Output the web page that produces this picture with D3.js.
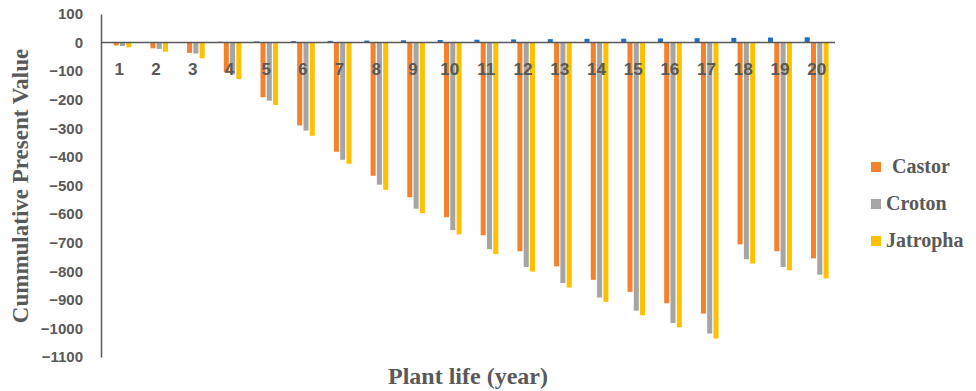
<!DOCTYPE html>
<html>
<head>
<meta charset="utf-8">
<script src="https://cdn.jsdelivr.net/npm/d3@7"></script>
<style>
  body { margin: 0; background: #fff; }
  .tick-label { font-family: "Liberation Sans", Arial, sans-serif; font-weight: bold; fill: #595959; }
  .title { font-family: "Liberation Serif", "Times New Roman", serif; font-weight: bold; fill: #595959; }
</style>
</head>
<body>
<div id="chart"></div>
<script>
// values
const years = d3.range(1, 21);
const seriesNames = ["Base", "Castor", "Croton", "Jatropha"];
const base = [0.5, 1, 2, 3, 4, 5, 6, 7, 8, 9, 10, 11, 12, 13, 13.5, 14.5, 15.5, 16.5, 17.5, 18.5];
const castor = [-10, -20, -36, -104, -191, -290, -382, -466, -541, -611, -674, -730, -783, -830, -872, -912, -948, -706, -730, -755];
const croton = [-12, -22, -38, -111, -203, -308, -410, -497, -581, -656, -723, -785, -841, -892, -938, -981, -1018, -758, -785, -812];
const jatropha = [-17, -32, -55, -128, -218, -326, -424, -515, -597, -671, -740, -801, -857, -907, -954, -996, -1035, -773, -797, -825];
const yTicks = d3.range(100, -1101, -100);
const legendNames = ["Castor", "Croton", "Jatropha"];

const colors = { Base: "#1f6fc4", Castor: "#f5812c", Croton: "#a5a5a5", Jatropha: "#ffc000" };
const values = { Base: base, Castor: castor, Croton: croton, Jatropha: jatropha };

const width = 976, height = 391;
const plot = { left: 101, right: 835, top: 14, bottom: 357 };

const svg = d3.select("#chart").append("svg")
  .attr("width", width)
  .attr("height", height);

const x0 = d3.scaleBand()
  .domain(years)
  .range([plot.left, plot.right])
  .paddingInner(0.28)
  .paddingOuter(0.14);

const x1 = d3.scaleBand()
  .domain(seriesNames)
  .range([0, x0.bandwidth()])
  .padding(0.2);

const y = d3.scaleLinear()
  .domain([-1100, 100])
  .range([plot.bottom, plot.top]);

// bars
const rows = years.map((yr, i) => ({ year: yr, vals: seriesNames.map(s => ({ key: s, v: values[s][i] })) }));

svg.append("g").selectAll("g")
  .data(rows)
  .join("g")
  .attr("transform", d => "translate(" + x0(d.year) + ",0)")
  .selectAll("rect")
  .data(d => d.vals)
  .join("rect")
  .attr("x", d => x1(d.key))
  .attr("width", x1.bandwidth())
  .attr("y", d => y(Math.max(0, d.v)))
  .attr("height", d => Math.abs(y(d.v) - y(0)))
  .attr("fill", d => colors[d.key]);

// y axis (labels only, plus line)
const yAxis = d3.axisLeft(y).tickValues(yTicks).tickSize(0).tickPadding(18).tickFormat(d3.format("d"));
const yg = svg.append("g")
  .attr("transform", "translate(" + plot.left + ",0)")
  .call(yAxis);
yg.select(".domain").attr("stroke", "#595959").attr("stroke-width", 1.5);
yg.selectAll("text").attr("class", "tick-label").style("font-size", "15px");

// zero line
svg.append("line")
  .attr("x1", plot.left)
  .attr("x2", plot.right)
  .attr("y1", y(0))
  .attr("y2", y(0))
  .attr("stroke", "#595959")
  .attr("stroke-width", 1.5);

// category labels under zero line
svg.append("g").selectAll("text")
  .data(years)
  .join("text")
  .attr("class", "tick-label")
  .style("font-size", "17px")
  .attr("text-anchor", "middle")
  .attr("x", d => x0(d) + x0.bandwidth() / 2)
  .attr("y", y(0) + 32)
  .text(d => d);

// axis titles
svg.append("text")
  .attr("class", "title")
  .style("font-size", "23px")
  .attr("text-anchor", "middle")
  .attr("transform", "translate(28," + 186 + ") rotate(-90)")
  .text("Cummulative Present Value");

svg.append("text")
  .attr("class", "title")
  .style("font-size", "24px")
  .attr("text-anchor", "middle")
  .attr("x", 468)
  .attr("y", 384)
  .text("Plant life (year)");

// legend
const legend = svg.append("g").selectAll("g")
  .data(legendNames)
  .join("g")
  .attr("transform", (d, i) => "translate(871," + (167 + i * 37) + ")");

legend.append("rect")
  .attr("x", 0)
  .attr("y", -5)
  .attr("width", 10)
  .attr("height", 10)
  .attr("fill", d => colors[d]);

legend.append("text")
  .attr("class", "title")
  .style("font-size", "20px")
  .attr("x", (d, i) => i == 0 ? 21 : 15)
  .attr("y", 6)
  .text(d => d);
</script>
</body>
</html>
